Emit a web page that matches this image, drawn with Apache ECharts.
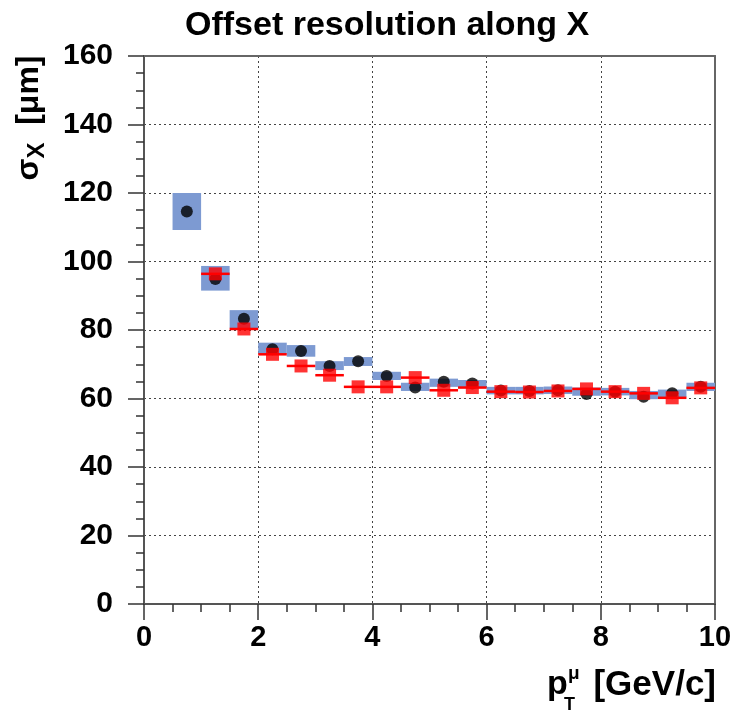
<!DOCTYPE html>
<html>
<head>
<meta charset="utf-8">
<script src="https://cdn.jsdelivr.net/npm/echarts@6/dist/echarts.min.js"></script>
<style>html,body{margin:0;padding:0;background:#fff}#c{width:737px;height:710px}</style>
</head>
<body>
<div id="c"></div>
<script>
// ---- data ----
const binCentersBlack = [0.75,1.25,1.75,2.25,2.75,3.25,3.75,4.25,4.75,5.25,5.75,6.25,6.75,7.25,7.75,8.25,8.75,9.25,9.75];
const blackValues = [114.6,94.9,83.3,74.4,73.9,69.5,70.9,66.6,63.2,64.9,64.4,62.3,62.2,62.4,61.3,62.0,60.5,61.5,63.4];
const boxCenters = [114.6,95.1,83.15,74.65,73.9,69.6,70.8,66.6,63.4,64.6,64.2,62.3,62.3,62.4,62.0,62.0,61.0,61.5,63.4];
const boxErrors = [5.4,3.6,2.65,1.65,1.7,1.3,1.3,1.2,1.2,1.2,1.2,1.1,1.1,1.1,1.2,1.1,1.2,1.1,1.2];
const binCentersRed = [1.25,1.75,2.25,2.75,3.25,3.75,4.25,4.75,5.25,5.75,6.25,6.75,7.25,7.75,8.25,8.75,9.25,9.75];
const redValues = [96.4,80.3,72.9,69.5,66.8,63.4,63.4,66.1,62.4,63.2,62.0,61.9,62.2,62.8,62.0,61.5,60.2,63.1];
const binWidth = 0.5;
const xTicks = [0,2,4,6,8,10];
const yTicks = [0,20,40,60,80,100,120,140,160];

const FONT = 'Liberation Sans';
const chart = echarts.init(document.getElementById('c'), null, {renderer:'canvas'});

const boxData = binCentersBlack.map((x,i)=>[x, boxCenters[i], boxErrors[i]]);
const blackData = binCentersBlack.map((x,i)=>[x, blackValues[i]]);
const redData = binCentersRed.map((x,i)=>[x, redValues[i]]);

const axisBase = {
  type:'value',
  axisLine:{show:true, onZero:false, lineStyle:{color:'#555', width:2}},
  axisTick:{show:true, inside:false, length:16, lineStyle:{color:'#333', width:1.5}},
  minorTick:{show:true, splitNumber:4, length:8, lineStyle:{color:'#333', width:1.5}},
};
const frameAxis = {
  type:'value',
  axisLine:{show:true, onZero:false, lineStyle:{color:'#666', width:2}},
  axisTick:{show:false}, minorTick:{show:false},
  axisLabel:{show:false}, splitLine:{show:false}
};

chart.setOption({
  animation:false,
  backgroundColor:'#fff',
  title:{
    text:'Offset resolution along X', left:180, top:4,
    textStyle:{fontFamily:FONT, fontWeight:'bold', fontSize:34, color:'#000'}
  },
  grid:{left:144, right:22, top:56, bottom:106},
  xAxis:[
    Object.assign({}, axisBase, {
      position:'bottom', min:xTicks[0], max:xTicks[xTicks.length-1], interval:2,
      axisLabel:{show:true, margin:19, fontFamily:FONT, fontWeight:'bold', fontSize:29, color:'#000'},
      splitLine:{show:true, lineStyle:{color:'#444', type:[2,3], width:1}}
    }),
    Object.assign({}, frameAxis, {position:'top', min:xTicks[0], max:xTicks[xTicks.length-1], interval:2})
  ],
  yAxis:[
    Object.assign({}, axisBase, {
      position:'left', min:yTicks[0], max:yTicks[yTicks.length-1], interval:20,
      axisLabel:{show:true, margin:31, fontFamily:FONT, fontWeight:'bold', fontSize:30, color:'#000'},
      splitLine:{show:true, lineStyle:{color:'#444', type:[2,3], width:1}}
    }),
    Object.assign({}, frameAxis, {position:'right', min:yTicks[0], max:yTicks[yTicks.length-1], interval:20})
  ],
  graphic:[
    {type:'text', x:29, y:118, rotation:Math.PI/2,
     style:{text:'{a|σ}{b|X}{a|  [μm]}', align:'center', verticalAlign:'middle',
       rich:{a:{fontFamily:FONT, fontWeight:'bold', fontSize:32, lineHeight:40, verticalAlign:'middle', fill:'#000'},
             b:{fontFamily:FONT, fontWeight:'bold', fontSize:24, lineHeight:40, verticalAlign:'bottom', fill:'#000'}}}},
    {type:'text', x:547, y:685, style:{text:'p', fontFamily:FONT, fontWeight:'bold', fontSize:34, fill:'#000', align:'left', verticalAlign:'middle'}},
    {type:'text', x:568, y:674, style:{text:'μ', fontFamily:FONT, fontWeight:'bold', fontSize:19, fill:'#000', align:'left', verticalAlign:'middle'}},
    {type:'text', x:564, y:705, style:{text:'T', fontFamily:FONT, fontWeight:'bold', fontSize:18, fill:'#000', align:'left', verticalAlign:'middle'}},
    {type:'text', x:716, y:685, style:{text:'[GeV/c]', fontFamily:FONT, fontWeight:'bold', fontSize:35, fill:'#000', align:'right', verticalAlign:'middle'}}
  ],
  series:[
    {
      type:'custom', name:'syst', data:boxData, z:2,
      renderItem:function(params, api){
        const x=api.value(0), y=api.value(1), e=api.value(2);
        const p1=api.coord([x-binWidth/2, y+e]);
        const p2=api.coord([x+binWidth/2, y-e]);
        return {type:'rect', shape:{x:p1[0], y:p1[1], width:p2[0]-p1[0], height:p2[1]-p1[1]},
                style:{fill:'#7d9ad2'}};
      }
    },
    {
      type:'scatter', name:'black', data:blackData, symbol:'circle', symbolSize:12, z:3,
      itemStyle:{color:'#000'}
    },
    {
      type:'custom', name:'redbars', data:redData, z:4,
      renderItem:function(params, api){
        const x=api.value(0), y=api.value(1);
        const p1=api.coord([x-binWidth/2, y]);
        const p2=api.coord([x+binWidth/2, y]);
        return {type:'line', shape:{x1:p1[0], y1:p1[1], x2:p2[0], y2:p2[1]},
                style:{stroke:'#ff0000', lineWidth:2.5}};
      }
    },
    {
      type:'scatter', name:'red', data:redData, symbol:'rect', symbolSize:13, z:5,
      itemStyle:{color:'#ff0000'}
    }
  ]
});
</script>
</body>
</html>
